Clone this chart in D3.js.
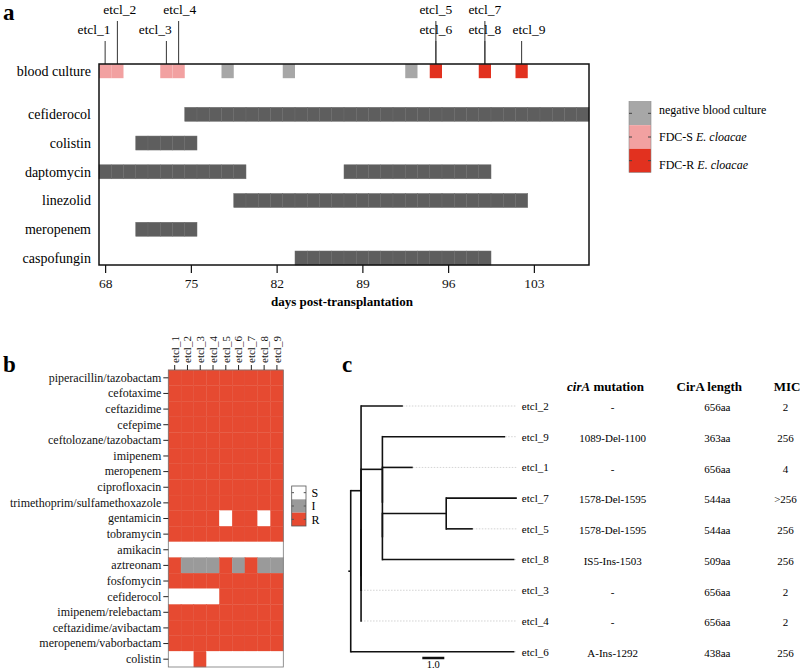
<!DOCTYPE html>
<html><head><meta charset="utf-8">
<script src="https://cdn.jsdelivr.net/npm/d3@7"></script>
<style>
html,body{margin:0;padding:0;background:#fff;}
svg{display:block;font-family:"Liberation Serif","Times New Roman",serif;}
</style></head>
<body><svg id="c" width="800" height="669"></svg>
<script>
// ---------- Panel a data ----------
const drugs = ["cefiderocol","colistin","daptomycin","linezolid","meropenem","caspofungin"];
const courseDrug = ["cefiderocol","colistin","daptomycin","daptomycin","linezolid","meropenem","caspofungin"];
const courseStart = [75,71,68,88,79,71,84];
const courseEnd   = [107,75,79,99,102,75,99];
const bcDays   = [68,69,73,74,78,83,93,95,99,102];
const bcStatus = ["S","S","S","S","N","N","N","R","R","R"];
const isoNames = ["etcl_1","etcl_2","etcl_3","etcl_4","etcl_5","etcl_6","etcl_7","etcl_8","etcl_9"];
const isoDays  = [68,69,73,74,95,95,99,99,102];
const isoLabelDays = [67.1,69.2,72.1,74.1,95,95,99,99,102.6];
const isoTier  = [0,1,0,1,1,0,1,0,0];
const xTicks = [68,75,82,89,96,103];
const legendA = ["negative blood culture","FDC-S","FDC-R"];

// ---------- Panel b data ----------
const abx = ["piperacillin/tazobactam","cefotaxime","ceftazidime","cefepime","ceftolozane/tazobactam",
 "imipenem","meropenem","ciprofloxacin","trimethoprim/sulfamethoxazole","gentamicin","tobramycin",
 "amikacin","aztreonam","fosfomycin","cefiderocol","imipenem/relebactam","ceftazidime/avibactam",
 "meropenem/vaborbactam","colistin"];
const suscept = ["RRRRRRRRR","RRRRRRRRR","RRRRRRRRR","RRRRRRRRR","RRRRRRRRR","RRRRRRRRR","RRRRRRRRR",
 "RRRRRRRRR","RRRRRRRRR","RRRRSRRSR","RRRRRRRRR","SSSSSSSSS","RIIIRIRII","RRRRRRRRR","SSSSRRRRR",
 "RRRRRRRRR","RRRRRRRRR","RRRRRRRRR","SSRSSSSSS"];
const sirLevels = ["S","I","R"];

// ---------- Panel c data ----------
const newick = "((etcl_2:1.9,(((etcl_9:5.58,(etcl_1:1.38,((etcl_7:3.21,etcl_5:1.21):2.9,etcl_8:6.0):0):0):0.97,etcl_3:0):0,etcl_4:0):0):0.47,etcl_6:7.44):0.11;";
const tableTips = ["etcl_2","etcl_9","etcl_1","etcl_7","etcl_5","etcl_8","etcl_3","etcl_4","etcl_6"];
const cirAMut   = ["-","1089-Del-1100","-","1578-Del-1595","1578-Del-1595","IS5-Ins-1503","-","-","A-Ins-1292"];
const cirALen   = ["656aa","363aa","656aa","544aa","544aa","509aa","656aa","656aa","438aa"];
const micVals   = ["2","256","4",">256","256","256","2","2","256"];
const scaleBarLen = 1.0;

// ---------- styling ----------
const FONT = '"Liberation Serif","Times New Roman",serif';
const colBar = "#5e5e5e";
const colBC = {N:"#a7a7a7", S:"#f2a1a1", R:"#e2311f"};
const colSIR = {S:"#ffffff", I:"#9a9a9a", R:"#e64a31"};

const svg = d3.select("#c");

// panel letters
[["a",3,20],["b",3,372],["c",342,372]].forEach(([t,x,y])=>{
  svg.append("text").attr("x",x).attr("y",y).attr("font-size",23).attr("font-weight","bold").text(t);
});

// ================= Panel a =================
const xA = d3.scaleLinear().domain([67.5,107.5]).range([99,589]);
const rowY = d3.scaleLinear().domain([0,5]).range([114.3,258]);
const bcY = rowY(-1.5);
const gA = svg.append("g");
const barH = 14;

gA.selectAll(".dl").data(drugs).join("text")
  .attr("x",91).attr("y",(d,i)=>rowY(i)).attr("dy","0.35em")
  .attr("text-anchor","end").attr("font-size",14).text(d=>d);
gA.append("text").attr("x",91).attr("y",bcY).attr("dy","0.35em")
  .attr("text-anchor","end").attr("font-size",14).text("blood culture");

const tiles = [];
courseDrug.forEach((d,k)=>{ for(let day=courseStart[k]; day<=courseEnd[k]; day++) tiles.push({d,day}); });
gA.selectAll(".tile").data(tiles).join("rect")
  .attr("x",t=>xA(t.day-0.5)).attr("width",t=>xA(t.day+0.5)-xA(t.day-0.5))
  .attr("y",t=>rowY(drugs.indexOf(t.d))-barH/2).attr("height",barH)
  .attr("fill",colBar).attr("stroke","#6c6c6c").attr("stroke-width",0.5);

gA.selectAll(".bc").data(bcDays).join("rect")
  .attr("x",(d)=>xA(d-0.5)).attr("width",d=>xA(d+0.5)-xA(d-0.5))
  .attr("y",bcY-barH/2).attr("height",barH)
  .attr("fill",(d,i)=>colBC[bcStatus[i]]);

const tierLabY = [34,14], tierLineTop = [41,21];
gA.selectAll(".il").data(isoNames).join("line")
  .attr("x1",(d,i)=>xA(isoDays[i])).attr("x2",(d,i)=>xA(isoDays[i]))
  .attr("y1",(d,i)=>tierLineTop[isoTier[i]]).attr("y2",64)
  .attr("stroke","#333").attr("stroke-width",1);
gA.selectAll(".it").data(isoNames).join("text")
  .attr("x",(d,i)=>xA(isoLabelDays[i])).attr("y",(d,i)=>tierLabY[isoTier[i]])
  .attr("text-anchor","middle").attr("font-size",13.5).text(d=>d);

gA.append("rect").attr("x",99).attr("y",64).attr("width",490).attr("height",201)
  .attr("fill","none").attr("stroke","#111").attr("stroke-width",1.5);

const axA = gA.append("g").attr("transform","translate(0,265)")
  .call(d3.axisBottom(xA).tickValues(xTicks).tickSize(8).tickSizeOuter(0).tickPadding(5));
axA.select(".domain").remove();
axA.selectAll("line").attr("stroke","#111").attr("stroke-width",1.2);
axA.selectAll("text").attr("font-family",FONT).attr("font-size",13.5).attr("fill","#111");
gA.append("text").attr("x",342).attr("y",306).attr("text-anchor","middle")
  .attr("font-size",13).attr("font-weight","bold").text("days post-transplantation");

const legKeys = ["N","S","R"];
const legY = d3.scaleBand().domain(legKeys).range([101.5,172.5]);
const lg = gA.append("g");
lg.selectAll("rect").data(legKeys).join("rect")
  .attr("x",629).attr("width",22).attr("y",k=>legY(k)).attr("height",legY.bandwidth())
  .attr("fill",k=>colBC[k]);
lg.append("rect").attr("x",629).attr("y",101.5).attr("width",22).attr("height",71)
  .attr("fill","none").attr("stroke","#8a8a8a").attr("stroke-width",0.6);
legKeys.forEach(k=>{
  const yy = legY(k)+legY.bandwidth()/2;
  lg.append("line").attr("x1",629).attr("x2",632).attr("y1",yy).attr("y2",yy).attr("stroke","#444");
  lg.append("line").attr("x1",648).attr("x2",651).attr("y1",yy).attr("y2",yy).attr("stroke","#444");
});
const legLabY = d3.scaleLinear().domain([0,2]).range([109.5,164.5]);
legendA.forEach((t,i)=>{
  const tx = lg.append("text").attr("x",659).attr("y",legLabY(i)).attr("dy","0.35em").attr("font-size",12);
  tx.append("tspan").text(t);
  if(i>0) tx.append("tspan").attr("font-style","italic").text(" E. cloacae");
});

// ================= Panel b =================
const xB = d3.scaleBand().domain(isoNames).range([168.3,283.3]);
const yB = d3.scaleBand().domain(abx).range([370,667]);
const gB = svg.append("g");
const cells = [];
abx.forEach((a,r)=>isoNames.forEach((iso,c)=>cells.push({a,iso,v:suscept[r][c]})));
gB.selectAll(".cell").data(cells).join("rect")
  .attr("x",d=>xB(d.iso)).attr("y",d=>yB(d.a))
  .attr("width",xB.bandwidth()).attr("height",yB.bandwidth())
  .attr("fill",d=>colSIR[d.v])
  .attr("stroke",d=>d.v==="R"?"#e3533b":(d.v==="I"?"#a0a0a0":"#fff")).attr("stroke-width",0.4);
gB.append("rect").attr("x",168.3).attr("y",370).attr("width",115).attr("height",297)
  .attr("fill","none").attr("stroke","#777").attr("stroke-width",0.8);
const axBL = gB.append("g").attr("transform","translate(168.3,0)")
  .call(d3.axisLeft(yB).tickSize(5).tickPadding(2).tickSizeOuter(0));
axBL.select(".domain").remove();
axBL.selectAll("line").attr("stroke","#222");
axBL.selectAll("text").attr("font-family",FONT).attr("font-size",12).attr("fill","#111");
const axBT = gB.append("g").attr("transform","translate(0,370)")
  .call(d3.axisTop(xB).tickSize(5).tickPadding(2).tickSizeOuter(0));
axBT.select(".domain").remove();
axBT.selectAll("line").attr("stroke","#222");
axBT.selectAll("text").attr("font-family",FONT).attr("font-size",11).attr("fill","#111")
  .attr("transform","rotate(-90)").attr("text-anchor","start")
  .attr("x",7).attr("y",0).attr("dy","0.35em");
const lbY = d3.scaleBand().domain(sirLevels).range([486,526]);
gB.selectAll(".lb").data(sirLevels).join("rect")
  .attr("x",291.7).attr("width",14.3).attr("y",k=>lbY(k)).attr("height",lbY.bandwidth())
  .attr("fill",k=>colSIR[k]);
gB.append("rect").attr("x",291.7).attr("y",486).attr("width",14.3).attr("height",40)
  .attr("fill","none").attr("stroke","#555").attr("stroke-width",0.8);
sirLevels.forEach(k=>{
  const yy = lbY(k)+lbY.bandwidth()/2;
  gB.append("line").attr("x1",291.7).attr("x2",294).attr("y1",yy).attr("y2",yy).attr("stroke","#555");
  gB.append("line").attr("x1",303.7).attr("x2",306).attr("y1",yy).attr("y2",yy).attr("stroke","#555");
  gB.append("text").attr("x",311.5).attr("y",yy).attr("dy","0.35em").attr("font-size",12).text(k);
});

// ================= Panel c =================
function parseNewick(s){
  let i=0;
  function node(){
    const n={children:[]};
    if(s[i]==='('){ i++; n.children.push(node()); while(s[i]===','){ i++; n.children.push(node()); } i++; }
    let name=''; while(i<s.length && !':,);'.includes(s[i])) name+=s[i++];
    n.name=name; n.len=0;
    if(s[i]===':'){ i++; let num=''; while(i<s.length && !',);'.includes(s[i])) num+=s[i++]; n.len=+num; }
    return n;
  }
  return node();
}
const root = d3.hierarchy(parseNewick(newick), d=>d.children.length?d.children:null);
root.eachBefore(n=>{ n.depthLen = (n.parent?n.parent.depthLen:0) + n.data.len; });
const leaves = root.leaves();
leaves.forEach((l,i)=>l.yi=i);
root.eachAfter(n=>{ if(n.children) n.yi = d3.mean(n.children,c=>c.yi); });
const maxDepth = d3.max(leaves,l=>l.depthLen);
const xC = d3.scaleLinear().domain([0,1]).range([348.3,370.3]);
const yC = d3.scaleLinear().domain([0,leaves.length-1]).range([406,651.7]);
const gC = svg.append("g");
gC.selectAll(".guide").data(leaves.filter(l=>l.depthLen<maxDepth-0.05)).join("line")
  .attr("x1",l=>xC(l.depthLen)).attr("x2",xC(maxDepth))
  .attr("y1",l=>yC(l.yi)).attr("y2",l=>yC(l.yi))
  .attr("stroke","#c8c8c8").attr("stroke-width",0.8).attr("stroke-dasharray","1.5,1.5");
gC.selectAll(".he").data(root.descendants()).join("line")
  .attr("x1",n=>xC(n.parent?n.parent.depthLen:0)).attr("x2",n=>xC(n.depthLen))
  .attr("y1",n=>yC(n.yi)).attr("y2",n=>yC(n.yi))
  .attr("stroke","#111").attr("stroke-width",1.6);
gC.selectAll(".ve").data(root.descendants().filter(n=>n.children)).join("line")
  .attr("x1",n=>xC(n.depthLen)).attr("x2",n=>xC(n.depthLen))
  .attr("y1",n=>yC(d3.min(n.children,c=>c.yi))-0.8).attr("y2",n=>yC(d3.max(n.children,c=>c.yi))+0.8)
  .attr("stroke","#111").attr("stroke-width",1.6);
gC.selectAll(".tl").data(leaves).join("text")
  .attr("x",xC(maxDepth)+5).attr("y",l=>yC(l.yi)).attr("dy","0.35em")
  .attr("font-size",11).text(l=>l.data.name);
const colX = {mut:612.7, len:717.3, mic:785.5};
tableTips.forEach((t,i)=>{
  const leaf = leaves.find(l=>l.data.name===t);
  const yy = yC(leaf.yi)+1.5;
  gC.append("text").attr("x",colX.mut).attr("y",yy).attr("dy","0.35em").attr("text-anchor","middle").attr("font-size",11).text(cirAMut[i]);
  gC.append("text").attr("x",colX.len).attr("y",yy).attr("dy","0.35em").attr("text-anchor","middle").attr("font-size",11).text(cirALen[i]);
  gC.append("text").attr("x",colX.mic).attr("y",yy).attr("dy","0.35em").attr("text-anchor","middle").attr("font-size",11).text(micVals[i]);
});
const h1 = gC.append("text").attr("x",605.5).attr("y",386).attr("dy","0.35em").attr("text-anchor","middle")
  .attr("font-size",13).attr("font-weight","bold");
h1.append("tspan").attr("font-style","italic").text("cirA");
h1.append("tspan").text(" mutation");
gC.append("text").attr("x",709.3).attr("y",386).attr("dy","0.35em").attr("text-anchor","middle")
  .attr("font-size",13).attr("font-weight","bold").text("CirA length");
gC.append("text").attr("x",787).attr("y",386).attr("dy","0.35em").attr("text-anchor","middle")
  .attr("font-size",13).attr("font-weight","bold").text("MIC");
const sbX0 = 422.3;
gC.append("line").attr("x1",sbX0).attr("x2",sbX0+(xC(scaleBarLen)-xC(0)))
  .attr("y1",658).attr("y2",658).attr("stroke","#111").attr("stroke-width",2.5);
gC.append("text").attr("x",sbX0+(xC(scaleBarLen)-xC(0))/2).attr("y",667.5).attr("text-anchor","middle")
  .attr("font-size",10.5).text(d3.format(".1f")(scaleBarLen));
</script></body></html>
